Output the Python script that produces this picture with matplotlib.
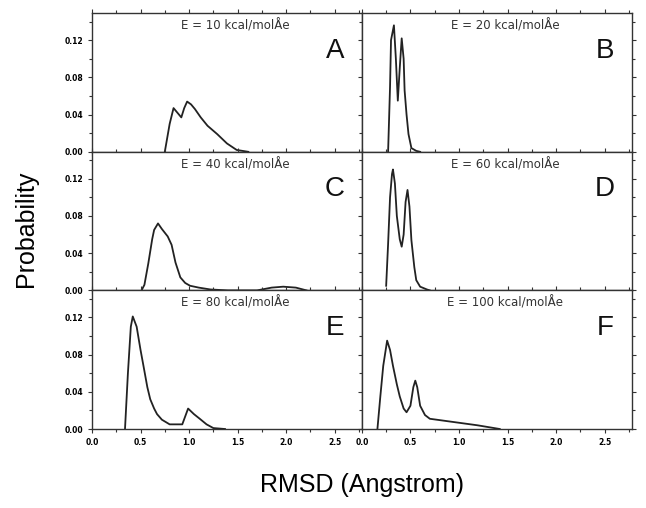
import numpy as np
import matplotlib.pyplot as plt
from matplotlib.ticker import MultipleLocator, FormatStrFormatter

# RMSD (Angstrom) / probability pairs
a_x = [0.75, 0.80, 0.84, 0.88, 0.92, 0.95, 0.98, 1.02, 1.06, 1.12, 1.19, 1.29, 1.39, 1.49, 1.61]
a_y = [0.0, 0.030, 0.047, 0.042, 0.037, 0.047, 0.054, 0.051, 0.046, 0.037, 0.028, 0.019, 0.009, 0.002, 0.0]

b_x = [0.27, 0.29, 0.30, 0.33, 0.35, 0.37, 0.39, 0.41, 0.43, 0.44, 0.46, 0.48, 0.51, 0.56, 0.60]
b_y = [0.0, 0.07, 0.12, 0.136, 0.10, 0.055, 0.09, 0.122, 0.10, 0.066, 0.04, 0.019, 0.004, 0.001, 0.0]

c_x = [0.51, 0.54, 0.58, 0.62, 0.64, 0.68, 0.72, 0.78, 0.82, 0.86, 0.91, 0.96, 1.01, 1.10, 1.22,
       1.40, 1.70, 1.85, 1.97, 2.10, 2.21]
c_y = [0.0, 0.006, 0.029, 0.055, 0.065, 0.072, 0.066, 0.058, 0.049, 0.030, 0.014, 0.008, 0.005, 0.003, 0.001,
       0.0, 0.0, 0.003, 0.004, 0.003, 0.0]

d_x = [0.25, 0.27, 0.29, 0.31, 0.32, 0.34, 0.36, 0.39, 0.41, 0.43, 0.45, 0.47, 0.49, 0.51, 0.54, 0.56, 0.60, 0.67, 0.70]
d_y = [0.005, 0.05, 0.10, 0.125, 0.13, 0.115, 0.08, 0.055, 0.047, 0.06, 0.095, 0.108, 0.09, 0.054, 0.025, 0.011, 0.004, 0.001, 0.0]

e_x = [0.34, 0.37, 0.40, 0.42, 0.46, 0.50, 0.53, 0.57, 0.60, 0.64, 0.67, 0.72, 0.80, 0.93, 0.99, 1.05, 1.11, 1.18, 1.25, 1.37]
e_y = [0.0, 0.06, 0.11, 0.121, 0.11, 0.085, 0.068, 0.045, 0.032, 0.022, 0.016, 0.010, 0.005, 0.005, 0.022, 0.016,
       0.011, 0.005, 0.001, 0.0]

f_x = [0.16, 0.19, 0.22, 0.26, 0.29, 0.32, 0.36, 0.39, 0.43, 0.46, 0.50, 0.53, 0.55, 0.57, 0.60, 0.65, 0.70,
       0.91, 1.19, 1.42]
f_y = [0.0, 0.035, 0.068, 0.095, 0.085, 0.068, 0.048, 0.035, 0.022, 0.018, 0.025, 0.045, 0.052, 0.045, 0.025,
       0.015, 0.011, 0.008, 0.004, 0.0]

energies = [10, 20, 40, 60, 80, 100]
letters = ['A', 'B', 'C', 'D', 'E', 'F']
series = [(a_x, a_y), (b_x, b_y), (c_x, c_y), (d_x, d_y), (e_x, e_y), (f_x, f_y)]

fig, axes = plt.subplots(3, 2, figsize=(6.46, 5.08), dpi=100, sharex=True, sharey=True)
fig.subplots_adjust(left=0.1424, right=0.978, top=0.974, bottom=0.1555,
                    wspace=0, hspace=0)

for i, ax in enumerate(axes.flat):
    xs, ys = series[i]
    ax.plot(xs, ys, color='#222222', lw=1.3)
    ax.set_xlim(0, 2.78)
    ax.set_ylim(0, 0.149)
    ax.xaxis.set_major_locator(MultipleLocator(0.5))
    ax.xaxis.set_minor_locator(MultipleLocator(0.25))
    ax.yaxis.set_major_locator(MultipleLocator(0.04))
    ax.yaxis.set_minor_locator(MultipleLocator(0.02))
    ax.xaxis.set_major_formatter(FormatStrFormatter('%.1f'))
    ax.yaxis.set_major_formatter(FormatStrFormatter('%.2f'))
    ax.tick_params(which='both', direction='out', top=True, right=True,
                   labelsize=5.5, color='#333333', width=0.8)
    ax.tick_params(which='major', length=3)
    ax.tick_params(which='minor', length=2)
    for lab in ax.get_xticklabels() + ax.get_yticklabels():
        lab.set_fontweight('bold')
    for s in ax.spines.values():
        s.set_color('#333333')
        s.set_linewidth(1.0)
    ax.text(0.53, 0.91, f'E = {energies[i]} kcal/molÅe', transform=ax.transAxes,
            ha='center', va='center', fontsize=8.5, color='#333333')
    ax.text(0.90, 0.73, letters[i], transform=ax.transAxes, ha='center',
            va='center', fontsize=20, family='Liberation Sans', color='#111111')

fig.text(0.04, 0.55, 'Probability', rotation=90, ha='center', va='center',
         fontsize=18, family='Liberation Sans')
fig.text(0.56, 0.045, 'RMSD (Angstrom)', ha='center', va='center',
         fontsize=18, family='Liberation Sans')

plt.savefig('out.png', dpi=100)
